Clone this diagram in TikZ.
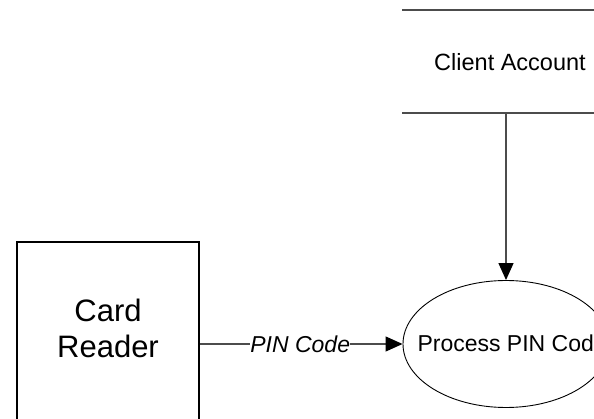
\documentclass[tikz,border=0pt]{standalone}
\usepackage{fontspec}
\setmainfont{Liberation Sans}
\usetikzlibrary{arrows.meta,shapes.geometric}
\tikzset{
  flow/.style={draw=black!70, line width=1.3pt,
    -{Triangle[length=17pt,width=15pt,black]}},
  entity/.style={draw=black, line width=1.8pt, rectangle, inner sep=0pt,
    minimum width=182pt, minimum height=200pt},
  storeline/.style={draw=black!70, line width=1.6pt},
  process/.style={draw=black, line width=0.9pt, ellipse, inner sep=0pt,
    minimum width=206pt, minimum height=127pt},
}
\begin{document}
\begin{tikzpicture}[x=1pt, y=-1pt]
  \useasboundingbox (0,0) rectangle (594,419);
  \clip (0,0) rectangle (594,419);

  % external entity (runs off the bottom edge)
  \node[entity] (cr) at (108,342) {};
  \node[align=center, font=\fontsize{31}{36}\selectfont] (crtext) at (108,328) {Card\\Reader};

  % data store
  \coordinate (stl) at (402,10);
  \coordinate (str) at (600,10);
  \coordinate (sbl) at (402,113);
  \coordinate (sbr) at (600,113);
  \draw[storeline] (stl) -- (str);
  \draw[storeline] (sbl) -- (sbr);
  \node[font=\fontsize{23.5}{28}\selectfont] (ca) at (510,62) {Client Account};
  \coordinate (caout) at (506,113);

  % process
  \node[process] (pp) at (506,344) {};
  \node[font=\fontsize{23}{28}\selectfont, anchor=west] (pptext) at (414,343) {Process PIN Code};

  % data flows
  \draw[flow] (caout) -- (pp.north);
  \draw[flow] (cr.east |- pp.west) -- node[fill=white, inner xsep=0pt, inner ysep=1pt,
      font=\fontsize{23}{27}\selectfont\itshape, xshift=-1pt] (pin) {PIN Code} (pp.west);
\end{tikzpicture}
\end{document}
